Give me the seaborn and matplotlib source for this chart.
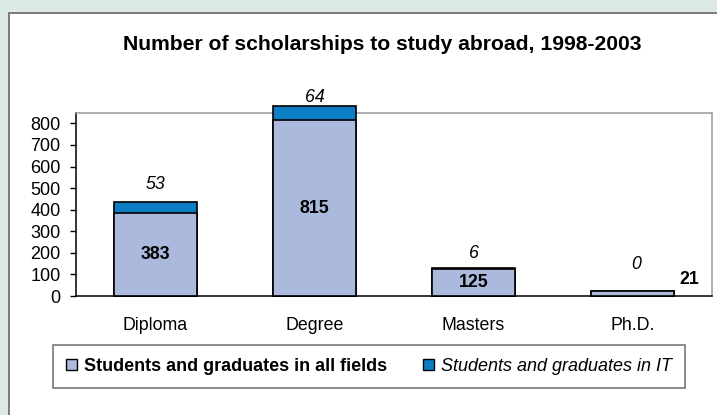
import matplotlib
matplotlib.use('Agg')
import matplotlib.pyplot as plt
from matplotlib.patches import Rectangle, Patch
import pandas as pd
import seaborn as sns

categories = ['Diploma', 'Degree', 'Masters', 'Ph.D.']
all_fields = [383, 815, 125, 21]
it_fields = [53, 64, 6, 0]
series_names = ['Students and graduates in all fields', 'Students and graduates in IT']
y_ticks = [0, 100, 200, 300, 400, 500, 600, 700, 800]
title = 'Number of scholarships to study abroad, 1998-2003'

light = '#aab9dc'
dark = '#0a7fc6'
frame_bg = '#dce9e5'

# label offsets in pixels (excel labels were nudged by hand)
it_offsets = [(0, 17), (0, 9), (0, 14), (4, 27)]
base_offsets = [(0, 0), (0, 0), (0, 0), (57, 14)]

sns.set_style('white')
plt.rcParams['font.family'] = ['Liberation Sans', 'DejaVu Sans']
plt.rcParams['text.color'] = 'black'
plt.rcParams['xtick.color'] = 'black'
plt.rcParams['ytick.color'] = 'black'

df = pd.DataFrame({'cat': categories, 'all': all_fields, 'it': it_fields})
df['total'] = df['all'] + df['it']

W, H = 717, 415
fig = plt.figure(figsize=(W / 100, H / 100), dpi=100)
fig.patch.set_facecolor(frame_bg)
panel = Rectangle((9 / W, -0.1), 1, 1.1 - 13 / H, transform=fig.transFigure,
                  facecolor='white', edgecolor='#666666', linewidth=1.2, zorder=-5)
fig.add_artist(panel)

ax = fig.add_axes([76 / W, 1 - 296 / H, (712 - 76) / W, (296 - 113) / H])
ax.set_zorder(2)
ax.set_facecolor('white')

sns.barplot(data=df, x='cat', y='total', color=dark, width=0.52, saturation=1,
            edgecolor='black', linewidth=1.2, ax=ax)
sns.barplot(data=df, x='cat', y='all', color=light, width=0.52, saturation=1,
            edgecolor='black', linewidth=1.2, ax=ax)
for p in ax.patches:
    p.set_clip_on(False)
    p.set_zorder(3)

ax.set_ylim(0, 848)
ax.set_xlim(-0.5, 3.5)
ax.set_yticks(y_ticks)
ax.set_xlabel('')
ax.set_ylabel('')
ax.set_xticks([i - 0.5 for i in range(len(categories) + 1)], minor=True)
ax.tick_params(axis='x', which='major', length=0, pad=15, labelsize=12.8)
ax.tick_params(axis='x', which='minor', length=4, width=1, color='black', direction='out')
ax.tick_params(axis='y', length=4, width=1, color='black', direction='out', pad=7,
               labelsize=13, left=True)
for side in ['left', 'bottom']:
    ax.spines[side].set_color('black')
    ax.spines[side].set_linewidth(1.1)
for side in ['top', 'right']:
    ax.spines[side].set_color('#999999')
    ax.spines[side].set_linewidth(1.1)

for i, row in df.iterrows():
    dx, dy = base_offsets[i]
    ax.annotate(f"{row['all']}", (i, row['all'] / 2), xytext=(dx, dy),
                textcoords='offset pixels', ha='center', va='center',
                fontsize=12.8, fontweight='bold', annotation_clip=False, zorder=4)
    dx, dy = it_offsets[i]
    ax.annotate(f"{row['it']}", (i, row['total']), xytext=(dx, dy),
                textcoords='offset pixels', ha='center', va='center',
                fontsize=12.8, fontstyle='italic', annotation_clip=False, zorder=4)

fig.text(382.5 / W, 1 - 45 / H, title, ha='center', va='center',
         fontsize=15.2, fontweight='bold')

handles = [Patch(facecolor=light, edgecolor='black', linewidth=1),
           Patch(facecolor=dark, edgecolor='black', linewidth=1)]
leg = fig.legend(handles, series_names, loc='center',
                 bbox_to_anchor=(369 / W, 1 - 366.5 / H), ncol=2, fontsize=13,
                 frameon=True, fancybox=False, edgecolor='#555555',
                 handlelength=0.6, handleheight=0.6, handletextpad=0.4,
                 columnspacing=2.0, borderpad=0.7)
leg.get_frame().set_linewidth(1.2)
leg.get_texts()[0].set_fontweight('bold')
leg.get_texts()[1].set_fontstyle('italic')

fig.savefig('out.png', dpi=100, facecolor=fig.get_facecolor())
